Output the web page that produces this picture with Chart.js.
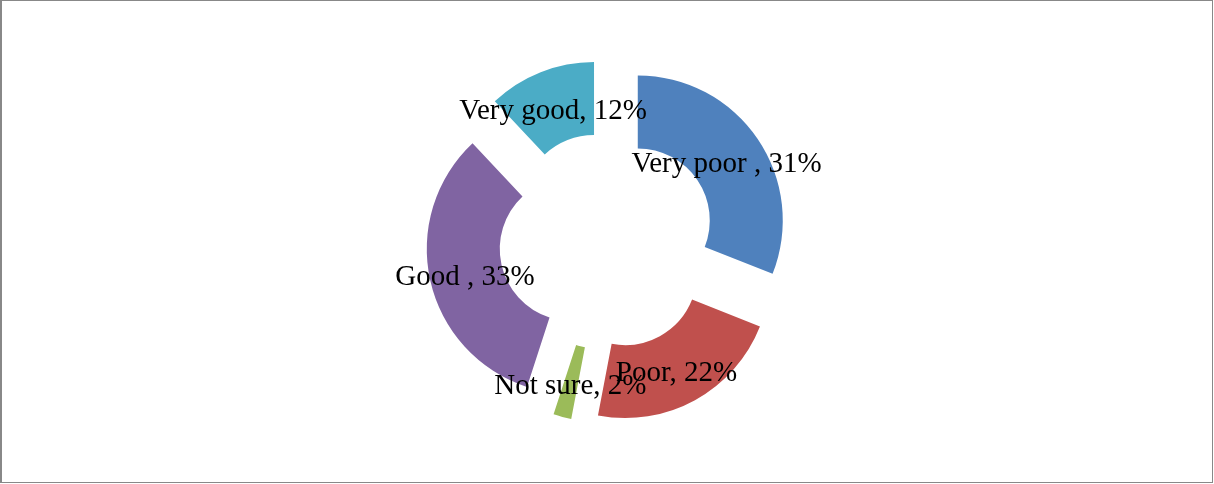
<!DOCTYPE html>
<html>
<head>
<meta charset="utf-8">
<script src="https://cdn.jsdelivr.net/npm/chart.js@4.4.1/dist/chart.umd.min.js"></script>
<style>
  html, body { margin: 0; padding: 0; background: #fff; }
  #wrap { position: relative; width: 1214px; height: 484px; }
  #ratings { position: absolute; left: 0; top: 0; }
  #frame {
    position: absolute; left: 0; top: 0; width: 1213px; height: 483px;
    box-sizing: border-box; border: 1px solid #888; border-left-width: 2px;
    pointer-events: none;
  }
</style>
</head>
<body>
<div id="wrap">
  <canvas id="ratings" width="1214" height="484"></canvas>
  <div id="frame"></div>
</div>
<script>
const categories = ['Very poor ', 'Poor', 'Not sure', 'Good ', 'Very good'];
const shares = [31, 22, 2, 33, 12];
const sliceColors = ['#4F81BD', '#C0504D', '#9BBB59', '#8064A2', '#4BACC6'];

// how far each slice is pulled out from the centre, in px
const pull = 36.6;

function slideOut(arc) {
    const mid = (arc.startAngle + arc.endAngle) / 2;
    return { dx: Math.cos(mid) * pull, dy: Math.sin(mid) * pull };
}

// draws the slices moved out along their middle angle
const explodedSlices = {
    id: 'explodedSlices',
    beforeDatasetDraw(chart, args) {
        const ctx = chart.ctx;
        args.meta.data.forEach(arc => {
            const { dx, dy } = slideOut(arc);
            ctx.save();
            ctx.translate(dx, dy);
            arc.draw(ctx);
            ctx.restore();
        });
        return false;
    }
};

// "Category, NN%" written in the middle of each slice
const sliceLabels = {
    id: 'sliceLabels',
    afterDatasetsDraw(chart) {
        const ctx = chart.ctx;
        const meta = chart.getDatasetMeta(0);
        ctx.save();
        ctx.font = '29px "Liberation Serif", "Times New Roman", serif';
        ctx.fillStyle = '#000';
        ctx.textAlign = 'center';
        ctx.textBaseline = 'middle';
        meta.data.forEach((arc, i) => {
            const c = arc.getCenterPoint();
            const { dx, dy } = slideOut(arc);
            ctx.fillText(categories[i] + ', ' + shares[i] + '%', c.x + dx - 1, c.y + dy + 5);
        });
        ctx.restore();
    }
};

new Chart(document.getElementById('ratings'), {
    type: 'doughnut',
    data: {
        labels: categories,
        datasets: [{
            data: shares,
            backgroundColor: sliceColors,
            borderWidth: 0
        }]
    },
    options: {
        responsive: false,
        animation: false,
        events: [],
        radius: 145,
        cutout: '49.66%',
        layout: { padding: { left: 1, bottom: 2 } },
        plugins: {
            legend: { display: false },
            tooltip: { enabled: false }
        }
    },
    plugins: [explodedSlices, sliceLabels]
});
</script>
</body>
</html>
